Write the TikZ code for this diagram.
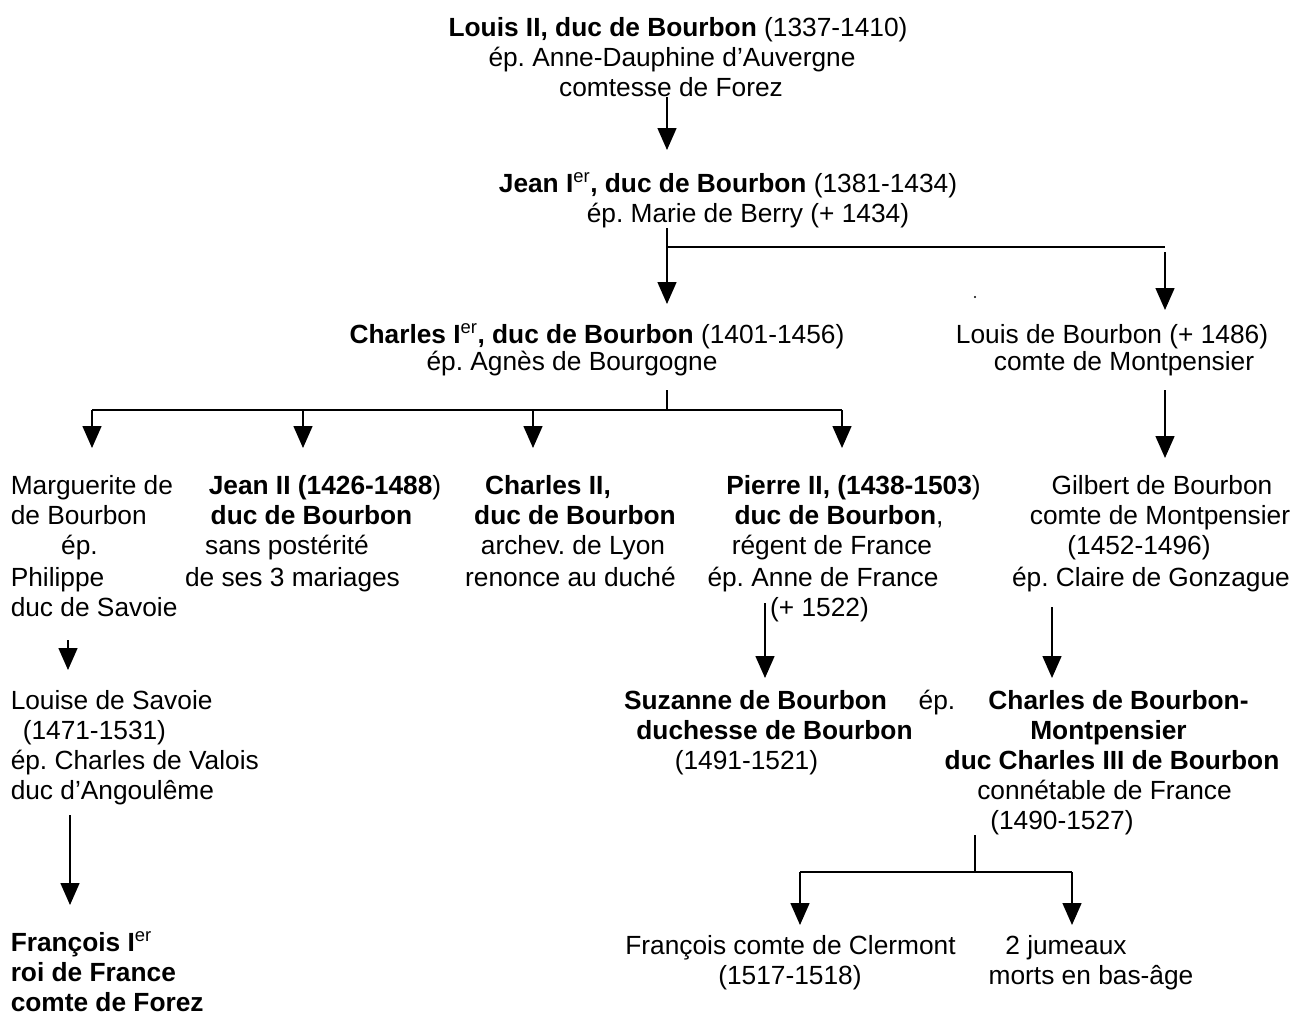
\documentclass[tikz,border=0pt]{standalone}
\usepackage{fontspec}
\setmainfont{Liberation Sans}
\usetikzlibrary{arrows.meta}
\frenchspacing
\begin{document}
\begin{tikzpicture}[x=1pt,y=-1pt,line width=1.5pt,
  arr/.style={-{Triangle[length=22pt,width=19pt]}},
  txt/.style={inner sep=0pt,anchor=base,font=\fontsize{26.3}{30}\selectfont},
  txtl/.style={txt,anchor=base west}]
\useasboundingbox (0,0) rectangle (1298,1015);
% --- generation 1
\node[txt] (l1a) at (678,36) {\textbf{Louis II, duc de Bourbon} (1337-1410)};
\node[txt] (l1b) at (672,66) {ép. Anne-Dauphine d’Auvergne};
\node[txt] (l1c) at (671,96) {comtesse de Forez};
% --- generation 2
\node[txt] (j1a) at (728,192) {\textbf{Jean I\textsuperscript{\mdseries er}, duc de Bourbon} (1381-1434)};
\node[txt] (j1b) at (748,222) {ép. Marie de Berry (+ 1434)};
% --- generation 3
\node[txt] (c1a) at (597,343) {\textbf{Charles I\textsuperscript{\mdseries er}, duc de Bourbon} (1401-1456)};
\node[txt] (c1b) at (572,370) {ép. Agnès de Bourgogne};
\node[txt] (lba) at (1112,343) {Louis de Bourbon (+ 1486)};
\node[txt] (lbb) at (1124,370) {comte de Montpensier};
% --- generation 4
\node[txtl] (mga) at (10,494) {Marguerite de};
\node[txtl] (mgb) at (10,524) {de Bourbon};
\node[txt]  (mgc) at (79.5,554) {ép.};
\node[txtl] (mgd) at (10,586) {Philippe};
\node[txtl] (mge) at (10,616) {duc de Savoie};
\node[txt] (j2a) at (325,494) {\textbf{Jean II (1426-1488})};
\node[txt] (j2b) at (311.5,524) {\textbf{duc de Bourbon}};
\node[txt] (j2c) at (287,554) {sans postérité};
\node[txt] (j2d) at (292.5,586) {de ses 3 mariages};
\node[txt] (c2a) at (548,494) {\textbf{Charles II,}};
\node[txt] (c2b) at (575,524) {\textbf{duc de Bourbon}};
\node[txt] (c2c) at (573,554) {archev. de Lyon};
\node[txt] (c2d) at (570.5,586) {renonce au duché};
\node[txt] (p2a) at (853.5,494) {\textbf{Pierre II, (1438-1503})};
\node[txt] (p2b) at (839,524) {\textbf{duc de Bourbon},};
\node[txt] (p2c) at (832,554) {régent de France};
\node[txt] (p2d) at (823,586) {ép. Anne de France};
\node[txt] (p2e) at (819.5,616) {(+ 1522)};
\node[txt] (gba) at (1162,494) {Gilbert de Bourbon};
\node[txt] (gbb) at (1160,524) {comte de Montpensier};
\node[txt] (gbc) at (1139,554) {(1452-1496)};
\node[txt] (gbd) at (1151,586) {ép. Claire de Gonzague};
% --- generation 5
\node[txtl] (lsa) at (10,709) {Louise de Savoie};
\node[txtl] (lsb) at (22,739) {(1471-1531)};
\node[txtl] (lsc) at (10,769) {ép. Charles de Valois};
\node[txtl] (lsd) at (10,799) {duc d’Angoulême};
\node[txt] (sza) at (755.5,709) {\textbf{Suzanne de Bourbon}};
\node[txt] (szb) at (774.5,739) {\textbf{duchesse de Bourbon}};
\node[txt] (szc) at (746.5,769) {(1491-1521)};
\node[txt] (ep) at (937,709) {ép.};
\node[txt] (c3a) at (1118.5,709) {\textbf{Charles de Bourbon-}};
\node[txt] (c3b) at (1108.5,739) {\textbf{Montpensier}};
\node[txt] (c3c) at (1112,769) {\textbf{duc Charles III de Bourbon}};
\node[txt] (c3d) at (1104.5,799) {connétable de France};
\node[txt] (c3e) at (1062,829) {(1490-1527)};
% --- generation 6
\node[txtl] (f1a) at (10,951) {\textbf{François I\textsuperscript{\mdseries er}}};
\node[txtl] (f1b) at (10,981) {\textbf{roi de France}};
\node[txtl] (f1c) at (10,1011) {\textbf{comte de Forez}};
\node[txt] (fca) at (790.5,954) {François comte de Clermont};
\node[txt] (fcb) at (790,984) {(1517-1518)};
\node[txt] (jma) at (1066,954) {2 jumeaux};
\node[txt] (jmb) at (1091,984) {morts en bas-âge};
% --- connector points
\coordinate (a1s) at (667,97);  \coordinate (a1e) at (667,150);
\coordinate (b1s) at (667,228); \coordinate (b1m) at (667,247);
\coordinate (b1e) at (667,304);
\coordinate (b2m) at (1165,247); \coordinate (b2s) at (1165,252);
\coordinate (b2e) at (1165,310);
\coordinate (c0s) at (667,390); \coordinate (c0m) at (667,410);
\coordinate (c1m) at (92,410);  \coordinate (c1e) at (92,448);
\coordinate (c2m) at (303,410); \coordinate (c2e) at (303,448);
\coordinate (c3m) at (533,410); \coordinate (c3e) at (533,448);
\coordinate (c4m) at (842,410); \coordinate (c4e) at (842,448);
\coordinate (d1s) at (1165,390); \coordinate (d1e) at (1165,458);
\coordinate (e1s) at (68,640);  \coordinate (e1e) at (68,670);
\coordinate (e2s) at (765,603); \coordinate (e2e) at (765,678);
\coordinate (e3s) at (1052,607); \coordinate (e3e) at (1052,678);
\coordinate (f1s) at (70,815);  \coordinate (f1e) at (70,905);
\coordinate (g0s) at (975,835); \coordinate (g0m) at (975,872);
\coordinate (g1m) at (800,872); \coordinate (g1e) at (800,925);
\coordinate (g2m) at (1072,872); \coordinate (g2e) at (1072,925);
\coordinate (dot) at (975,297);
% --- connectors
\draw[arr] (a1s) -- (a1e);
\draw[arr] (b1s) -- (b1e);
\draw (b1m) -- (b2m);
\draw[arr] (b2s) -- (b2e);
\draw (c0s) -- (c0m);
\draw (c1m) -- (c4m);
\draw[arr] (c1m) -- (c1e);
\draw[arr] (c2m) -- (c2e);
\draw[arr] (c3m) -- (c3e);
\draw[arr] (c4m) -- (c4e);
\draw[arr] (d1s) -- (d1e);
\draw[arr] (e1s) -- (e1e);
\draw[arr] (e2s) -- (e2e);
\draw[arr] (e3s) -- (e3e);
\draw[arr] (f1s) -- (f1e);
\draw (g0s) -- (g0m);
\draw (g1m) -- (g2m);
\draw[arr] (g1m) -- (g1e);
\draw[arr] (g2m) -- (g2e);
\fill (dot) circle (1.2pt);
\end{tikzpicture}
\end{document}
